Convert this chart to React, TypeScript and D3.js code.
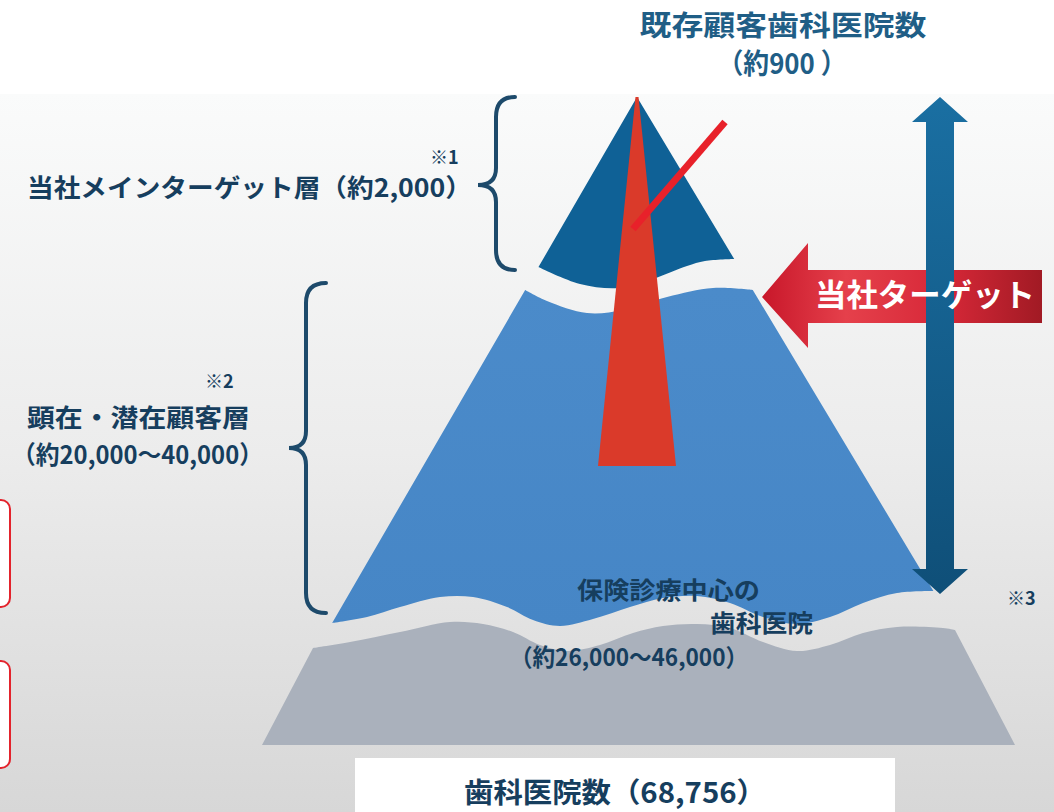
import React from 'react';
import * as d3 from 'd3';

// ---- content (text values) ----
const existingTitle = ['既存顧客歯科医院数', '（約900 ）'];
const tierNames = ['当社メインターゲット層', '顕在・潜在顧客層', '保険診療中心の', '歯科医院'];
const tierCounts = ['（約2,000）', '（約20,000～40,000）', '（約26,000～46,000）'];
const noteMarks = ['※1', '※2', '※3'];
const totalLabel = '歯科医院数';
const totalCount = '（68,756）';
const targetLabel = '当社ターゲット';

const W = 1054;
const H = 812;
const FONT = '"Noto Sans CJK JP", "Noto Sans", sans-serif';
const NAVY = '#163e5e';

export default function App() {
  const apexY = 97;
  const apexX = 637;
  // pyramid side scales (y -> x)
  const leftX = d3.scaleLinear().domain([apexY, 625]).range([apexX, 331]);
  const rightX = d3.scaleLinear().domain([apexY, 592]).range([apexX, 934]);
  const grayLeft = d3.scaleLinear().domain([648, 745]).range([313, 262]);
  const grayRight = d3.scaleLinear().domain([630, 745]).range([955, 1015]);

  const wave = d3.line<[number, number]>().curve(d3.curveCatmullRom.alpha(0.5));
  const cont = (pts: [number, number][]) => (wave(pts) || '').replace(/^M/, 'L');

  // top (dark) layer bottom wave, right -> left
  const topWave: [number, number][] = [
    [rightX(259), 259], [705, 261], [687, 266], [653, 279], [620, 288], [580, 284], [leftX(267), 267],
  ];
  const topPath = `M${apexX},${apexY}` + cont(topWave) + 'Z';

  // middle layer
  const midTop: [number, number][] = [
    [leftX(290), 290], [547, 301], [587, 313], [623, 310], [667, 297], [713, 288], [rightX(290), 290],
  ];
  const midBottom: [number, number][] = [
    [rightX(591), 591], [897, 593], [863, 603], [830, 617], [797, 624], [763, 617], [730, 603], [697, 596],
    [663, 598], [630, 607], [593, 619], [560, 626], [533, 620], [507, 607], [473, 597], [440, 597],
    [400, 607], [367, 617], [leftX(623), 623],
  ];
  const midPath = (wave(midTop) || '') + cont(midBottom) + 'Z';

  // gray base
  const grayTop: [number, number][] = [
    [grayLeft(648), 648], [350, 642], [400, 632], [450, 622], [483, 624], [513, 632], [540, 645], [567, 651],
    [600, 645], [633, 633], [663, 626], [697, 624], [730, 628], [763, 642], [797, 651], [830, 645],
    [863, 633], [897, 627], [943, 628], [grayRight(630), 630],
  ];
  const grayPath =
    (wave(grayTop) || '') + `L${grayRight(745)},745L${grayLeft(745)},745Z`;

  // red wedge
  const wedgeBottom = 466;
  const wedgeHalf = d3.scaleLinear().domain([apexY, wedgeBottom]).range([1.5, 39]);
  const wedge = d3.line()([
    [apexX - wedgeHalf(apexY), apexY],
    [apexX + wedgeHalf(apexY), apexY],
    [apexX + wedgeHalf(wedgeBottom), wedgeBottom],
    [apexX - wedgeHalf(wedgeBottom), wedgeBottom],
  ]) + 'Z';

  // vertical double arrow
  const ax = 940, aTop = 97, aBot = 594, shaft = 14, head = 28, headLen = 25;
  const vArrow = d3.line()([
    [ax, aTop], [ax + head, aTop + headLen], [ax + shaft, aTop + headLen], [ax + shaft, aBot - headLen],
    [ax + head, aBot - headLen], [ax, aBot], [ax - head, aBot - headLen], [ax - shaft, aBot - headLen],
    [ax - shaft, aTop + headLen], [ax - head, aTop + headLen],
  ]) + 'Z';

  // red target arrow
  const rTip = 762, rMid = 297, rBack = 808, rEnd = 1042;
  const rArrow = d3.line()([
    [rTip, rMid], [rBack, 243], [rBack, 270], [rEnd, 270], [rEnd, 323], [rBack, 323], [rBack, 348],
  ]) + 'Z';

  const brace = (x0: number, xv: number, xt: number, y0: number, ym: number, y1: number) => {
    const r = 20;
    return `M${x0},${y0}Q${xv},${y0} ${xv},${y0 + r}L${xv},${ym - 17}Q${xv},${ym} ${xt},${ym}` +
      `Q${xv},${ym} ${xv},${ym + 17}L${xv},${y1 - r}Q${xv},${y1} ${x0},${y1}`;
  };

  return (
    <div style={{ position: 'absolute', left: 0, top: 0, width: W, height: H, overflow: 'hidden' }}>
      <svg width={W} height={H} style={{ display: 'block' }} fontFamily={FONT}>
        <defs>
          <linearGradient id="bg" x1="0" y1="0" x2="0" y2="1">
            <stop offset="0" stopColor="#fafbfb" />
            <stop offset="0.5" stopColor="#ececec" />
            <stop offset="1" stopColor="#d7d7d7" />
          </linearGradient>
          <linearGradient id="vgrad" x1="0" y1="0" x2="0" y2="1">
            <stop offset="0" stopColor="#1a6fa2" />
            <stop offset="1" stopColor="#0f4f78" />
          </linearGradient>
          <linearGradient id="rgrad" x1="0" y1="0" x2="1" y2="0">
            <stop offset="0" stopColor="#c8172a" />
            <stop offset="0.3" stopColor="#e5404b" />
            <stop offset="0.65" stopColor="#d72838" />
            <stop offset="1" stopColor="#a11a24" />
          </linearGradient>
          <linearGradient id="midgrad" x1="0" y1="0" x2="0" y2="1">
            <stop offset="0" stopColor="#4b8bca" />
            <stop offset="1" stopColor="#4686c6" />
          </linearGradient>
        </defs>

        <rect x={0} y={0} width={W} height={H} fill="#ffffff" />
        <rect x={0} y={94} width={W} height={H - 94} fill="url(#bg)" />

        {/* left red boxes (cropped) */}
        <rect x={-20} y={500} width={30} height={107} rx={9} fill="#ffffff" stroke="#e3232c" strokeWidth={2} />
        <rect x={-20} y={661} width={30} height={107} rx={9} fill="#ffffff" stroke="#e3232c" strokeWidth={2} />

        {/* pyramid */}
        <path d={grayPath} fill="#aab1bc" />
        <path d={midPath} fill="url(#midgrad)" />
        <path d={topPath} fill="#0f6196" />
        <path d={wedge} fill="#da3a2a" />
        <line x1={725} y1={122} x2={633} y2={229} stroke="#e8212a" strokeWidth={7} />

        {/* target arrow */}
        <path d={rArrow} fill="url(#rgrad)" />
        <path d={vArrow} fill="url(#vgrad)" />
        <text x={815} y={306} fill="#ffffff" fontSize={31} fontWeight={700} textLength={220} lengthAdjust="spacingAndGlyphs">
          {targetLabel}
        </text>

        {/* braces */}
        <path d={brace(515, 496, 478, 97, 185, 270)} fill="none" stroke="#1d4a6b" strokeWidth={4} strokeLinecap="round" />
        <path d={brace(326, 306, 289, 283, 448, 613)} fill="none" stroke="#1d4a6b" strokeWidth={4} strokeLinecap="round" />

        {/* top title */}
        <text x={783} y={36} textAnchor="middle" fill="#1f5e86" fontSize={28} fontWeight={700} textLength={287} lengthAdjust="spacingAndGlyphs">
          {existingTitle[0]}
        </text>
        <text x={782} y={74} textAnchor="middle" fill="#1f5e86" fontSize={28} fontWeight={700} textLength={129} lengthAdjust="spacingAndGlyphs">
          {existingTitle[1]}
        </text>

        {/* left labels */}
        <text x={430} y={164} fill={NAVY} fontSize={18} fontWeight={700}>{noteMarks[0]}</text>
        <text x={27} y={197} fill={NAVY} fontSize={25} fontWeight={700} textLength={445} lengthAdjust="spacingAndGlyphs">
          {tierNames[0] + tierCounts[0]}
        </text>
        <text x={205} y={388} fill={NAVY} fontSize={18} fontWeight={700}>{noteMarks[1]}</text>
        <text x={27} y={427} fill={NAVY} fontSize={25} fontWeight={700} textLength={223} lengthAdjust="spacingAndGlyphs">
          {tierNames[1]}
        </text>
        <text x={12} y={464} fill={NAVY} fontSize={25} fontWeight={700} textLength={251} lengthAdjust="spacingAndGlyphs">
          {tierCounts[1]}
        </text>

        {/* bottom tier labels */}
        <text x={577} y={599} fill={NAVY} fontSize={24} fontWeight={700} textLength={183} lengthAdjust="spacingAndGlyphs">
          {tierNames[2]}
        </text>
        <text x={710} y={632} fill={NAVY} fontSize={24} fontWeight={700} textLength={103} lengthAdjust="spacingAndGlyphs">
          {tierNames[3]}
        </text>
        <text x={510} y={666} fill={NAVY} fontSize={24} fontWeight={700} textLength={238} lengthAdjust="spacingAndGlyphs">
          {tierCounts[2]}
        </text>
        <text x={1007} y={605} fill={NAVY} fontSize={18} fontWeight={700}>{noteMarks[2]}</text>

        {/* total box */}
        <rect x={355} y={758} width={540} height={60} fill="#ffffff" />
        <text x={464} y={803} fill={NAVY} fontSize={28} fontWeight={700} textLength={302} lengthAdjust="spacingAndGlyphs">
          {totalLabel + totalCount}
        </text>
      </svg>
    </div>
  );
}
